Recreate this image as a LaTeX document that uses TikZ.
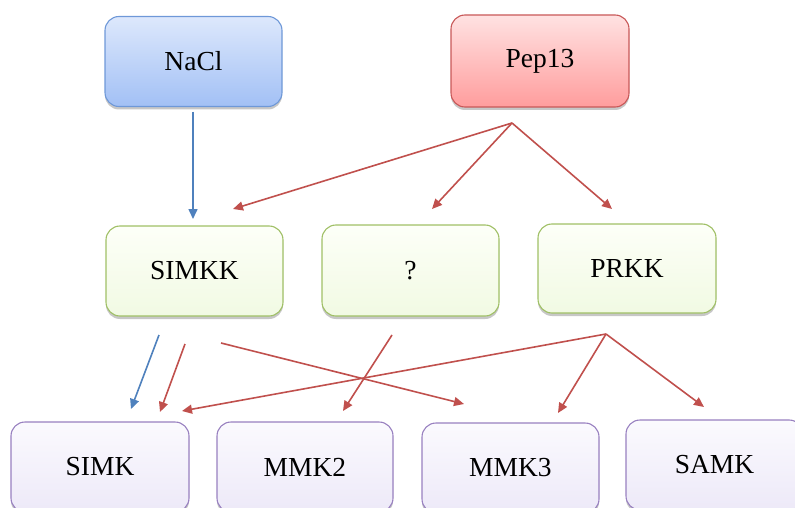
\documentclass[tikz,border=0pt]{standalone}
\usepackage{fontspec}
\setmainfont{Liberation Serif}
\usetikzlibrary{arrows.meta,shadows}
\definecolor{bluebd}{HTML}{6E98D8}
\definecolor{bluetop}{HTML}{DDE8FC}
\definecolor{bluebot}{HTML}{A2C0F5}
\definecolor{redbd}{HTML}{C85858}
\definecolor{redtop}{HTML}{FFE2E2}
\definecolor{redbot}{HTML}{FF9D9D}
\definecolor{greenbd}{HTML}{A0C066}
\definecolor{greentop}{HTML}{FDFFF8}
\definecolor{greenbot}{HTML}{F1FAE3}
\definecolor{purpbd}{HTML}{9880C0}
\definecolor{purptop}{HTML}{FBFAFE}
\definecolor{purpbot}{HTML}{EDE9F8}
\definecolor{arrblue}{HTML}{4F81BD}
\definecolor{arrred}{HTML}{C0504D}
\tikzset{
  box/.style={rectangle, rounded corners=14pt, line width=1.1pt, inner sep=0pt,
    minimum width=177pt, minimum height=90pt,
    font=\fontsize{27.5}{32}\selectfont,
    drop shadow={shadow xshift=0pt, shadow yshift=-3pt, opacity=0.22, fill=black}},
  bluebox/.style={box, draw=bluebd, top color=bluetop, bottom color=bluebot},
  redbox/.style={box, draw=redbd, top color=redtop, bottom color=redbot},
  greenbox/.style={box, draw=greenbd, top color=greentop, bottom color=greenbot},
  purpbox/.style={box, draw=purpbd, top color=purptop, bottom color=purpbot},
  barrow/.style={draw=arrblue, line width=1.6pt, -{Triangle[length=10pt,width=9pt]}, fill=arrblue},
  rarrow/.style={draw=arrred, line width=1.6pt, -{Triangle[length=10pt,width=9pt]}, fill=arrred}
}
\begin{document}
\begin{tikzpicture}[x=1pt,y=-1pt]
\useasboundingbox (0,0) rectangle (795,508);
\begin{scope}
\clip (0,0) rectangle (795,508);
\node[bluebox] (nacl) at (193.5,61.5) {NaCl};
\node[redbox, minimum width=178pt, minimum height=92pt] (pep) at (540,61) {Pep13};
\node[greenbox] (simkk) at (194.5,271) {SIMKK};
\node[greenbox, minimum height=91pt] (unk) at (410.5,270.5) {?};
\node[greenbox, minimum width=178pt, minimum height=89pt] (prkk) at (627,268.5) {PRKK};
\node[purpbox, minimum width=178pt] (simk) at (100,467) {SIMK};
\node[purpbox, minimum width=176pt] (mmk2) at (305,467) {MMK2};
\node[purpbox] (mmk3) at (510.5,468) {MMK3};
\node[purpbox] (samk) at (714.5,465) {SAMK};
\end{scope}
% named coordinates
\coordinate (naclout) at (193,112);
\coordinate (simkkin) at (193,219);
\coordinate (pepfan) at (512,123);
\coordinate (simkkin2) at (233,209);
\coordinate (unkin) at (432,209);
\coordinate (prkkin) at (612,209);
\coordinate (prkkfan) at (606,334);
\coordinate (simkinp) at (182,411);
\coordinate (mmk3inp) at (558,413);
\coordinate (samkin) at (704,407);
\coordinate (simkkoutb) at (159,335);
\coordinate (simkinb) at (131,409);
\coordinate (simkkoutr) at (185,344);
\coordinate (simkinr) at (160,412);
\coordinate (simkkoutm) at (221,343);
\coordinate (mmk3ins) at (464,404);
\coordinate (unkout) at (392,335);
\coordinate (mmk2in) at (343,411);
\draw[barrow] (naclout) -- (simkkin);
\draw[rarrow] (pepfan) -- (simkkin2);
\draw[rarrow] (pepfan) -- (unkin);
\draw[rarrow] (pepfan) -- (prkkin);
\draw[rarrow] (prkkfan) -- (simkinp);
\draw[rarrow] (prkkfan) -- (mmk3inp);
\draw[rarrow] (prkkfan) -- (samkin);
\draw[barrow] (simkkoutb) -- (simkinb);
\draw[rarrow] (simkkoutr) -- (simkinr);
\draw[rarrow] (simkkoutm) -- (mmk3ins);
\draw[rarrow] (unkout) -- (mmk2in);
\end{tikzpicture}
\end{document}
